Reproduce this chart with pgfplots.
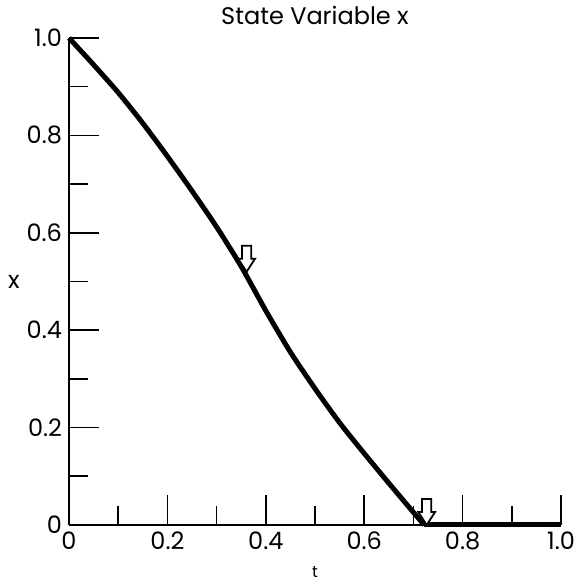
\documentclass[border=0pt]{standalone}
\usepackage{fontspec}
\setmainfont{Poppins}
\usepackage{pgfplots}
\pgfplotsset{compat=1.18}

% hollow block arrow pointing down, tip at the data point
\pgfdeclareplotmark{downblock}{%
  \pgfpathmoveto{\pgfpoint{0pt}{0pt}}%
  \pgfpathlineto{\pgfpoint{-4.2pt}{6.5pt}}%
  \pgfpathlineto{\pgfpoint{-2.3pt}{6.5pt}}%
  \pgfpathlineto{\pgfpoint{-2.3pt}{13pt}}%
  \pgfpathlineto{\pgfpoint{2.3pt}{13pt}}%
  \pgfpathlineto{\pgfpoint{2.3pt}{6.5pt}}%
  \pgfpathlineto{\pgfpoint{4.2pt}{6.5pt}}%
  \pgfpathclose
  \pgfusepathqfillstroke}

\begin{document}
\begin{tikzpicture}
\begin{axis}[
  name=ax,
  width=246pt, height=243.5pt, scale only axis,
  xmin=0, xmax=1, ymin=0, ymax=1,
  axis x line=bottom, axis y line=left,
  axis line style={-, line width=1pt},
  xtick={0,0.2,...,1.0}, ytick={0,0.2,...,1.0},
  xticklabels={0,0.2,0.4,0.6,0.8,1.0},
  yticklabels={0,0.2,0.4,0.6,0.8,1.0},
  minor tick num=1,
  tick align=inside,
  major tick length=15pt, minor tick length=9.5pt,
  tick style={black, line width=0.8pt},
  ticklabel style={font=\fontsize{12}{14}\selectfont},
  title={State Variable x},
  title style={font=\fontsize{12}{14}\selectfont, at={(axis description cs:0.5,1)}, anchor=center, yshift=5.5pt},
  xlabel={t},
  xlabel style={font=\footnotesize, at={(axis description cs:0.5,-0.097)}, anchor=center},
  ylabel={x},
  ylabel style={font=\fontsize{12}{14}\selectfont, at={(axis description cs:-0.112,0.5)}, anchor=center, rotate=-90},
  clip=false,
]
\addplot[black, line width=2.5pt, smooth, tension=0.4, line join=round] coordinates {
  (0,1.000) (0.05,0.945) (0.10,0.888) (0.15,0.825) (0.20,0.757)
  (0.25,0.686) (0.30,0.612) (0.35,0.531) (0.40,0.440) (0.45,0.355)
  (0.50,0.280) (0.55,0.210) (0.60,0.147) (0.65,0.086) (0.70,0.026)
  (0.722,0.000)
};
\addplot[black, line width=2.5pt] coordinates {(0.722,0) (1,0)};
\addplot[only marks, mark=downblock, mark options={fill=white, draw=black, line width=0.9pt}] coordinates {
  (0.361,0.520) (0.727,0.0)
};
\end{axis}
\pgfresetboundingbox
\path[use as bounding box] ([shift={(-34.5pt,-28pt)}]ax.south west) rectangle ([shift={(10.5pt,19pt)}]ax.north east);
\end{tikzpicture}
\end{document}
